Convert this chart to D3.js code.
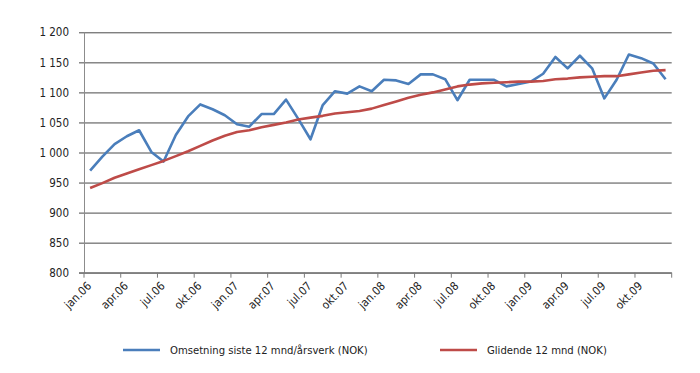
<!DOCTYPE html>
<html>
<head>
<meta charset="utf-8">
<script src="https://cdn.jsdelivr.net/npm/d3@7"></script>
<style>
  body { margin: 0; background: #fff; }
  text { font-family: "Liberation Sans Narrow", "DejaVu Sans Condensed", "Roboto Condensed", sans-serif; fill: #222; }
</style>
</head>
<body>
<script>
// months, jan.06 - des.09
const months = [
  'jan.06', 'feb.06', 'mar.06', 'apr.06', 'mai.06', 'jun.06', 'jul.06', 'aug.06', 'sep.06', 'okt.06', 'nov.06', 'des.06',
  'jan.07', 'feb.07', 'mar.07', 'apr.07', 'mai.07', 'jun.07', 'jul.07', 'aug.07', 'sep.07', 'okt.07', 'nov.07', 'des.07',
  'jan.08', 'feb.08', 'mar.08', 'apr.08', 'mai.08', 'jun.08', 'jul.08', 'aug.08', 'sep.08', 'okt.08', 'nov.08', 'des.08',
  'jan.09', 'feb.09', 'mar.09', 'apr.09', 'mai.09', 'jun.09', 'jul.09', 'aug.09', 'sep.09', 'okt.09', 'nov.09', 'des.09'
];

const omsetning = [
  970, 993, 1014, 1027, 1037, 1001, 985, 1029, 1060, 1080, 1072, 1062,
  1047, 1043, 1064, 1064, 1088, 1056, 1022, 1079, 1102, 1098, 1110, 1102,
  1121, 1120, 1114, 1130, 1130, 1122, 1087, 1121, 1121, 1121, 1110, 1114,
  1118, 1131, 1159, 1140, 1161, 1140, 1090, 1121, 1163, 1157, 1148, 1122
];

const glidende = [
  941, 949, 958, 965, 972, 979, 986, 994, 1002, 1011, 1020, 1028,
  1034, 1037, 1042, 1046, 1050, 1055, 1058, 1061, 1065, 1067, 1069, 1073,
  1079, 1085, 1091, 1096, 1100, 1105, 1110, 1113, 1115, 1116, 1117, 1118,
  1118, 1119, 1122, 1123, 1125, 1126, 1127, 1127, 1130, 1133, 1136, 1137
];

const tickLabels = ['jan.06', 'apr.06', 'jul.06', 'okt.06', 'jan.07', 'apr.07', 'jul.07', 'okt.07',
  'jan.08', 'apr.08', 'jul.08', 'okt.08', 'jan.09', 'apr.09', 'jul.09', 'okt.09'];

const yTicks = [800, 850, 900, 950, 1000, 1050, 1100, 1150, 1200];

const seriesNames = ['Omsetning siste 12 mnd/årsverk (NOK)', 'Glidende 12 mnd (NOK)'];
const colors = ['#4a7ebb', '#be4b48'];

const W = 700, H = 373;
const margin = { top: 32.3, right: 28.3, bottom: 100.3, left: 84 };
const width = W - margin.left - margin.right;
const height = H - margin.top - margin.bottom;

const svg = d3.select('body').append('svg')
    .attr('width', W)
    .attr('height', H);

const g = svg.append('g')
    .attr('transform', `translate(${margin.left}, ${margin.top})`);

const x = d3.scaleBand()
  .domain(months)
  .range([0, width])
  .padding(0);

const y = d3.scaleLinear()
  .domain([800, 1200])
  .range([height, 0]);

const nb = d3.formatLocale({ decimal: ',', thousands: '\u00a0', grouping: [3], currency: ['', ''] });

// gridlines + y ticks
const yAxis = d3.axisLeft(y)
  .tickValues(yTicks)
  .tickSize(-width - 5)
  .tickPadding(10)
  .tickFormat(nb.format(','));

g.append('g')
    .attr('class', 'y-axis')
    .attr('transform', 'translate(-5,0)')
    .call(yAxis)
    .call(s => s.select('.domain').remove())
    .call(s => s.selectAll('.tick line').attr('stroke', '#4a4a4a').attr('stroke-width', 1))
    .call(s => s.selectAll('.tick text').attr('font-size', 11.5).attr('fill', '#222'));

// y axis line
g.append('line')
    .attr('x1', 0.5).attr('x2', 0.5)
    .attr('y1', 0).attr('y2', height + 0.5)
    .attr('stroke', '#8c8c8c');

// x axis line and ticks at category borders
const xAxisG = g.append('g')
    .attr('class', 'x-axis')
    .attr('transform', `translate(0, ${height})`);

xAxisG.append('line')
    .attr('x1', -5).attr('x2', width)
    .attr('stroke', '#7a7a7a');

const tickMonths = months.filter((m, i) => i % 3 === 0);
xAxisG.selectAll('.xtick')
  .data(tickMonths.concat([null]))
  .join('line')
    .attr('class', 'xtick')
    .attr('x1', d => d === null ? width : x(d))
    .attr('x2', d => d === null ? width : x(d))
    .attr('y1', 0).attr('y2', 5)
    .attr('stroke', '#7a7a7a');

xAxisG.selectAll('.xlabel')
  .data(tickLabels)
  .join('text')
    .attr('class', 'xlabel')
    .attr('transform', d => `translate(${x(d) + x.bandwidth() / 2 + 2}, 14) rotate(-45)`)
    .attr('text-anchor', 'end')
    .attr('font-size', 11.5)
    .text(d => d);

// lines
const line = d3.line()
  .x((d, i) => x(months[i]) + x.bandwidth() / 2)
  .y(d => y(d));

[omsetning, glidende].forEach((values, k) => {
  g.append('path')
      .datum(values)
      .attr('fill', 'none')
      .attr('stroke', colors[k])
      .attr('stroke-width', 2.6)
      .attr('stroke-linejoin', 'round')
      .attr('d', line);
});

// legend
const legendPos = [{ x: 123, tx: 170 }, { x: 440, tx: 487 }];
const legend = svg.append('g').attr('class', 'legend');

seriesNames.forEach((name, k) => {
  legend.append('line')
      .attr('x1', legendPos[k].x).attr('x2', legendPos[k].x + 37)
      .attr('y1', 350).attr('y2', 350)
      .attr('stroke', colors[k])
      .attr('stroke-width', 2.6);
  legend.append('text')
      .attr('x', legendPos[k].tx)
      .attr('y', 354)
      .attr('font-size', 11.2)
      .text(name);
});
</script>
</body>
</html>
